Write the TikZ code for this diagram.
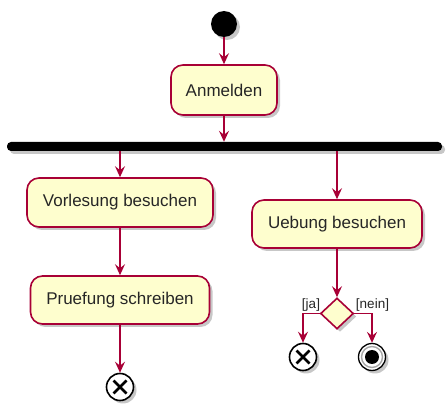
\documentclass[tikz,border=0pt]{standalone}
\usepackage{fontspec}
\setmainfont{Liberation Sans}
\usetikzlibrary{arrows.meta,shapes.geometric,shadows,calc}
\definecolor{umlred}{HTML}{A80036}
\definecolor{umlfill}{HTML}{FEFECE}
\tikzset{
  shadowed/.style={drop shadow={shadow xshift=3pt,shadow yshift=-3pt,opacity=0.22,fill=black}},
  action/.style={draw=umlred,line width=1.6pt,fill=umlfill,rounded corners=12pt,inner sep=0pt,
    font=\fontsize{17}{20}\selectfont,text=black!85,shadowed},
  flow/.style={draw=umlred,line width=1.5pt,-{Stealth[length=11pt,width=10pt,inset=4pt]}},
  guard/.style={font=\fontsize{13.5}{15}\selectfont,text=black!85,inner sep=0pt},
  endx/.style={circle,draw=black,line width=1.6pt,fill=white,minimum size=27pt,inner sep=0pt,shadowed,
    path picture={\draw[line width=2.8pt,black] ($(path picture bounding box.center)+(-6.5pt,-6.5pt)$) -- ($(path picture bounding box.center)+(6.5pt,6.5pt)$)
      ($(path picture bounding box.center)+(-6.5pt,6.5pt)$) -- ($(path picture bounding box.center)+(6.5pt,-6.5pt)$);}},
}
\begin{document}
\begin{tikzpicture}[x=1pt,y=-1pt]
\useasboundingbox (0,0) rectangle (448,409);
\node[circle,fill=black,minimum size=26pt,inner sep=0pt,shadowed] (start) at (224,24) {};
\node[action,minimum width=106pt,minimum height=50pt] (anm) at (224,90) {Anmelden};
\node[rectangle,fill=black,rounded corners=4pt,minimum width=435pt,minimum height=9pt,inner sep=0pt,shadowed] (bar) at (224.5,146.5) {};
\node[action,minimum width=186pt,minimum height=49pt] (vor) at (120,202.5) {Vorlesung besuchen};
\node[action,minimum width=170pt,minimum height=48pt] (ueb) at (337,224) {Uebung besuchen};
\node[action,minimum width=179pt,minimum height=48pt] (pru) at (120,300) {Pruefung schreiben};
\node[endx] (end1) at (120,387) {};
\node[diamond,aspect=1,draw=umlred,line width=1.6pt,fill=umlfill,minimum width=33pt,minimum height=31pt,inner sep=0pt,shadowed] (dec) at (337,313.5) {};
\node[endx] (end2) at (303,357) {};
\node[circle,draw=black,line width=1.3pt,fill=white,minimum size=27pt,inner sep=0pt,shadowed] (end3) at (372,357) {};
\node[circle,draw=black!35,line width=1.4pt,minimum size=21pt,inner sep=0pt] (end3ring) at (end3) {};
\node[circle,fill=black,minimum size=14pt,inner sep=0pt] (end3dot) at (end3) {};
\node[guard] (ja) at (311,305.5) {[ja]};
\node[guard] (nein) at (372.5,305.5) {[nein]};
\draw[flow] (start) -- (anm);
\draw[flow] (anm) -- (bar.north -| anm);
\draw[flow] (bar.south -| vor) -- (vor);
\draw[flow] (bar.south -| ueb) -- (ueb);
\draw[flow] (vor) -- (pru);
\draw[flow] (pru) -- (end1);
\draw[flow] (ueb) -- (dec);
\draw[flow] (dec.west) -| (end2.north);
\draw[flow] (dec.east) -| (end3.north);
\end{tikzpicture}
\end{document}
